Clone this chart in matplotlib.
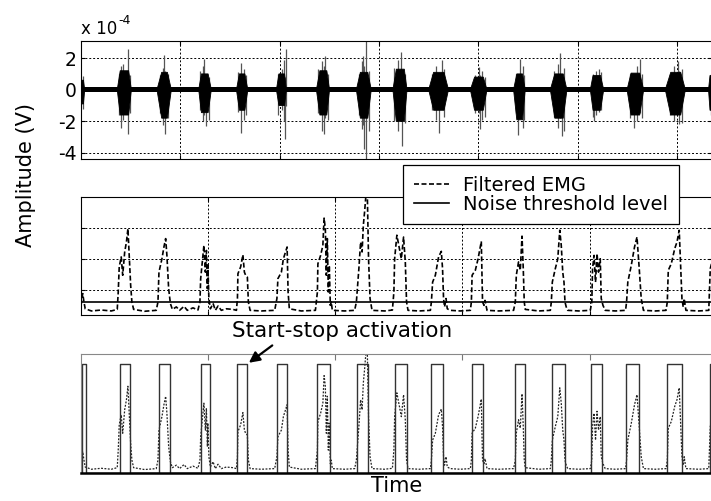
import matplotlib
matplotlib.use("Agg")
import matplotlib.pyplot as plt
from matplotlib.lines import Line2D

plt.rcParams["font.family"] = ["DejaVu Sans"]

# ---- data (time in s, raw EMG in 1e-4 V, envelope in arbitrary units) ----
# raw EMG: baseline noise band and bursts (onset, full-height span, offset, extent)
noise_t = [0.0, 25.5]
noise_hi = [0.20, 0.20]
noise_lo = [-0.15, -0.15]

burst_on = [0.00, 1.46, 3.06, 4.74, 6.26, 7.87, 9.48, 11.09, 12.56, 14.00, 15.68,
            17.42, 18.90, 20.51, 21.99, 23.53, 25.27]
burst_rise = [0.05, 1.58, 3.25, 4.85, 6.38, 7.97, 9.62, 11.25, 12.70, 14.20, 15.85,
              17.55, 19.08, 20.62, 22.15, 23.75, 25.33]
burst_fall = [0.10, 1.92, 3.48, 5.12, 6.60, 8.20, 9.90, 11.55, 13.02, 14.62, 16.20,
              17.78, 19.42, 20.92, 22.50, 24.15, 25.50]
burst_off = [0.15, 2.03, 3.64, 5.25, 6.72, 8.27, 10.01, 11.69, 13.13, 14.80, 16.35,
             17.89, 19.57, 21.05, 22.66, 24.34, 25.60]
burst_hi = [0.60, 1.20, 1.10, 1.00, 1.00, 1.00, 1.20, 1.10, 1.30, 1.10, 0.80,
            1.00, 1.00, 0.90, 1.05, 1.10, 0.90]
burst_lo = [-0.90, -1.60, -1.80, -1.45, -1.30, -1.00, -1.60, -1.80, -2.00, -1.30, -1.30,
            -1.90, -1.80, -1.30, -1.60, -1.60, -1.30]

# individual spikes inside the bursts
spike_t = [0.07, 1.60, 1.89, 3.36, 3.40, 4.95, 5.05, 6.46, 8.27, 8.23,
           9.78, 9.84, 11.36, 11.40, 11.49, 12.90, 12.93, 14.54, 14.40, 16.01,
           16.08, 17.69, 17.60, 19.30, 19.37, 20.84, 20.64, 22.52, 22.26, 24.04,
           24.07, 25.37,
           1.52, 1.70, 1.97, 3.20, 3.30, 3.52, 4.80, 4.90, 5.15, 6.32, 6.56, 6.66,
           7.95, 8.10, 8.18, 9.55, 9.70, 9.95, 11.20, 11.30, 11.58, 12.62, 12.75, 13.05,
           14.15, 14.30, 14.62, 15.85, 16.15, 16.25, 17.50, 17.78, 17.84, 19.05, 19.20, 19.47,
           20.60, 20.75, 20.95, 22.10, 22.40, 22.58, 23.70, 23.90, 24.20]
spike_hi = [0.87, 1.5, 2.56, 2.18, 1.2, 1.92, 1.0, 1.71, 2.56, 0.8,
            1.5, 2.13, 2.13, 1.5, 3.5, 2.39, 1.2, 1.88, 1.0, 1.46,
            0.9, 1.97, 0.9, 2.3, 1.0, 1.33, 0.8, 1.92, 1.0, 1.82,
            1.2, 1.0,
            1.0, 1.6, 0.9, 0.9, 1.4, 1.0, 1.2, 1.5, 0.8, 1.1, 1.3, 0.9,
            1.0, 1.3, 1.9, 1.3, 1.8, 1.0, 1.0, 1.8, 1.2, 1.4, 1.9, 1.0,
            1.0, 1.5, 1.3, 0.9, 1.2, 0.8, 1.0, 1.5, 0.9, 1.2, 1.6, 1.4,
            1.0, 1.2, 1.1, 1.0, 1.5, 1.0, 1.0, 1.5, 1.3]
spike_lo = [-1.24, -2.4, -2.82, -1.5, -2.82, -1.6, -2.3, -2.76, -1.0, -3.14,
            -2.82, -1.8, -2.2, -3.77, -4.6, -1.5, -3.56, -1.2, -2.72, -1.5,
            -2.47, -1.8, -2.89, -1.8, -2.93, -1.4, -1.98, -1.5, -2.4, -1.5,
            -2.19, -1.6,
            -1.6, -1.9, -1.5, -1.5, -2.2, -1.8, -1.3, -2.0, -1.9, -1.4, -1.9, -1.6,
            -1.6, -1.3, -2.0, -1.5, -2.6, -1.9, -1.6, -2.5, -2.6, -2.0, -2.6, -2.1,
            -1.3, -1.9, -1.7, -1.5, -1.9, -1.7, -1.5, -2.4, -1.9, -1.7, -2.4, -2.6,
            -1.7, -1.6, -1.3, -1.8, -2.0, -1.8, -1.6, -2.0, -2.1]

# filtered EMG envelope
env_t = [0.00, 0.07, 0.12, 0.17, 0.42, 0.82, 1.22, 1.46,
         1.50, 1.54, 1.62, 1.68, 1.76, 1.83, 1.89, 1.95, 2.00, 2.05, 2.12, 2.56, 3.03,
         3.10, 3.14, 3.26, 3.34, 3.41, 3.46, 3.53, 3.60, 3.68, 3.84, 3.97, 4.15, 4.28, 4.51, 4.71,
         4.79, 4.82, 4.90, 4.95, 5.01, 5.05, 5.09, 5.11, 5.15, 5.21, 5.32, 5.41, 5.52, 5.65, 5.85, 6.12, 6.26,
         6.30, 6.32, 6.43, 6.52, 6.58, 6.63, 6.70, 6.74, 6.81, 7.26, 7.80,
         7.89, 7.93, 8.07, 8.15, 8.30, 8.34, 8.39, 8.87, 9.44,
         9.52, 9.54, 9.65, 9.74, 9.79, 9.84, 9.88, 9.92, 9.96, 10.00, 10.04, 10.08, 10.12, 10.62, 11.02,
         11.09, 11.13, 11.19, 11.26, 11.32, 11.37, 11.42, 11.48, 11.53, 11.58, 11.64, 11.72, 12.23, 12.54,
         12.60, 12.63, 12.72, 12.82, 12.90, 12.99, 13.06, 13.11, 13.17, 13.61, 14.07,
         14.11, 14.16, 14.27, 14.40, 14.51, 14.56, 14.60, 14.64, 14.70, 14.75, 14.87, 15.27, 15.68,
         15.72, 15.75, 15.88, 15.99, 16.08, 16.12, 16.17, 16.23, 16.27, 16.35, 16.82, 17.42,
         17.49, 17.53, 17.62, 17.69, 17.76, 17.81, 17.85, 17.89, 18.43, 18.90,
         18.94, 18.98, 19.10, 19.20, 19.28, 19.34, 19.40, 19.45, 19.49, 19.54, 19.60, 20.04, 20.51,
         20.57, 20.60, 20.66, 20.72, 20.78, 20.84, 20.91, 20.95, 21.02, 21.11, 21.52, 21.93,
         21.97, 22.02, 22.16, 22.29, 22.39, 22.48, 22.56, 22.65, 23.13, 23.56,
         23.61, 23.65, 23.77, 23.91, 24.00, 24.09, 24.15, 24.20, 24.25, 24.29, 24.36, 24.87, 25.28,
         25.34, 25.44]
env_v = [0.50, 0.88, 0.61, 0.39, 0.32, 0.35, 0.32, 0.37,
         0.93, 1.74, 2.06, 1.47, 2.22, 2.54, 2.97, 2.00, 1.15, 0.61, 0.37, 0.31, 0.34,
         0.61, 1.57, 2.00, 2.38, 2.65, 2.11, 1.04, 0.56, 0.37, 0.45, 0.34, 0.47, 0.34, 0.42, 0.35,
         0.61, 1.36, 2.00, 2.43, 1.57, 2.27, 1.04, 1.79, 0.72, 0.39, 0.56, 0.34, 0.48, 0.34, 0.39, 0.37, 0.34,
         0.72, 1.52, 1.74, 2.13, 1.57, 1.47, 1.41, 0.61, 0.34, 0.32, 0.34,
         0.72, 1.36, 1.57, 2.00, 2.38, 0.93, 0.39, 0.32, 0.34,
         0.93, 1.84, 2.11, 2.43, 3.31, 2.97, 1.47, 2.65, 0.93, 1.79, 0.50, 0.61, 0.34, 0.32, 0.34,
         0.61, 1.04, 1.68, 2.54, 2.22, 3.08, 3.51, 4.10, 4.10, 2.00, 0.72, 0.34, 0.32, 0.35,
         0.93, 2.00, 2.76, 2.33, 2.00, 2.70, 1.90, 0.61, 0.34, 0.32, 0.34,
         0.61, 1.25, 1.47, 2.06, 2.24, 1.68, 0.72, 0.45, 0.72, 0.39, 0.34, 0.32, 0.34,
         0.61, 1.47, 1.63, 2.00, 2.38, 2.56, 0.61, 0.50, 0.66, 0.34, 0.32, 0.34,
         0.61, 1.47, 1.90, 1.63, 2.73, 1.68, 0.61, 0.37, 0.32, 0.34,
         0.61, 1.25, 1.68, 2.00, 2.92, 2.43, 1.57, 1.25, 0.61, 0.45, 0.34, 0.32, 0.34,
         0.61, 1.68, 2.11, 1.25, 2.17, 1.57, 2.00, 0.72, 0.50, 0.34, 0.32, 0.34,
         0.61, 1.25, 1.79, 2.38, 2.70, 1.68, 0.72, 0.34, 0.32, 0.34,
         0.61, 1.63, 1.84, 2.33, 2.54, 2.92, 1.68, 0.72, 0.45, 0.72, 0.34, 0.32, 0.34,
         1.68, 2.00]
threshold = 0.61

# start-stop activation pulses
pulse_on = [0.03, 1.56, 3.15, 4.82, 6.29, 7.91, 9.52, 11.12, 12.63, 14.11, 15.75,
            17.49, 18.97, 20.55, 21.96, 23.61, 25.33]
pulse_off = [0.20, 1.96, 3.57, 5.18, 6.70, 8.31, 10.02, 11.56, 13.13, 14.57, 16.18,
             17.87, 19.50, 20.98, 22.46, 24.20, 25.60]
pulse_low = 0.2
pulse_high = 3.67

top_yticks = [-4, -2, 0, 2]
top_xgrid = [4, 8, 12, 16, 20, 24]
env_xgrid = [5.12, 10.24, 15.36, 20.48]
env_ygrid = [1, 2, 3]
XMAX = 25.41

fig = plt.figure(figsize=(7.11, 5.01), dpi=100)
ax1 = fig.add_axes([0.1139, 0.682, 0.8875, 0.2368])
ax2 = fig.add_axes([0.1139, 0.3719, 0.8875, 0.2355])
ax3 = fig.add_axes([0.1139, 0.0559, 0.8875, 0.2375])

# ---- top: raw EMG ----
ax1.vlines(spike_t, spike_lo, spike_hi, color="#555555", lw=0.9, zorder=2)
ax1.fill_between(noise_t, noise_lo, noise_hi, color="k", lw=0, zorder=3)
for on, r, f, off, hi, lo in zip(burst_on, burst_rise, burst_fall, burst_off,
                                 burst_hi, burst_lo):
    ax1.fill([on, r, f, off, f, r], [0, hi, hi, 0, lo, lo], color="k", lw=0.6, zorder=3)
ax1.set_xlim(0, XMAX)
ax1.set_ylim(-4.4, 3.1)
ax1.set_yticks(top_yticks)
ax1.set_yticklabels([str(v) for v in top_yticks], fontsize=13.5)
ax1.set_xticks(top_xgrid)
ax1.tick_params(labelbottom=False, direction="in", length=3, top=True, right=True, pad=3)
ax1.set_axisbelow(True)
ax1.grid(True, linestyle=(0, (2, 2)), color="k", lw=0.7)
fig.text(81 / 711, 1 - 33.5 / 501, "x 10", fontsize=12, va="baseline", ha="left")
fig.text(118 / 711, 1 - 24 / 501, "-4", fontsize=9, va="baseline", ha="left")

# ---- middle: filtered EMG + threshold ----
ax2.plot(env_t, env_v, color="k", lw=1.2, linestyle=(0, (3, 1.5)))
ax2.axhline(threshold, color="k", lw=1.2)
ax2.set_xlim(0, XMAX)
ax2.set_ylim(0.2, 4.0)
ax2.set_xticks(env_xgrid)
ax2.set_yticks(env_ygrid)
ax2.tick_params(labelbottom=False, labelleft=False, direction="in", length=3,
                top=True, right=True)
ax2.grid(True, linestyle=(0, (2, 2)), color="k", lw=0.7)

handles = [Line2D([], [], color="k", lw=1.2, linestyle=(0, (3, 1.5))),
           Line2D([], [], color="k", lw=1.2)]
leg = ax2.legend(handles, ["Filtered EMG", "Noise threshold level"],
                 loc="upper left", bbox_to_anchor=(403 / 711, 1 - 165 / 501),
                 bbox_transform=fig.transFigure, fontsize=14, frameon=True,
                 fancybox=False, edgecolor="k", framealpha=1, borderaxespad=0,
                 borderpad=0.55, handlelength=1.8, handletextpad=0.75,
                 labelspacing=0.0)
leg.get_frame().set_linewidth(0.9)
leg.set_zorder(10)

# ---- bottom: activation ----
px, py = [], []
for on, off in zip(pulse_on, pulse_off):
    px += [on, on, off, off]
    py += [pulse_low, pulse_high, pulse_high, pulse_low]
ax3.plot(env_t, env_v, color="#222222", lw=0.9, linestyle=(0, (1.5, 1.2)))
ax3.plot(px, py, color="#333333", lw=1.0)
ax3.set_xlim(0, XMAX)
ax3.set_ylim(0.2, 4.0)
ax3.set_xticks(env_xgrid)
ax3.set_yticks([])
ax3.tick_params(axis="x", top=True, bottom=False, direction="in", length=4,
                color="#777777", labelbottom=False)
for side in ["top", "left"]:
    ax3.spines[side].set_color("#888888")
ax3.spines["right"].set_visible(False)
ax3.spines["bottom"].set_linewidth(1.8)
ax3.set_xlabel("Time", fontsize=15, labelpad=2)

ax3.annotate("Start-stop activation", xy=(6.76, 3.72), xycoords="data",
             xytext=(232 / 711, 1 - 331 / 501), textcoords="figure fraction",
             ha="left", va="center", fontsize=15.5,
             arrowprops=dict(arrowstyle="-|>", color="k", lw=1.6, mutation_scale=16,
                             shrinkA=2, shrinkB=0, relpos=(0.21, 0.0)))

fig.text(26 / 711, 1 - 175 / 501, "Amplitude (V)", rotation=90, fontsize=15,
         ha="center", va="center")

fig.savefig("out.png", dpi=100)
